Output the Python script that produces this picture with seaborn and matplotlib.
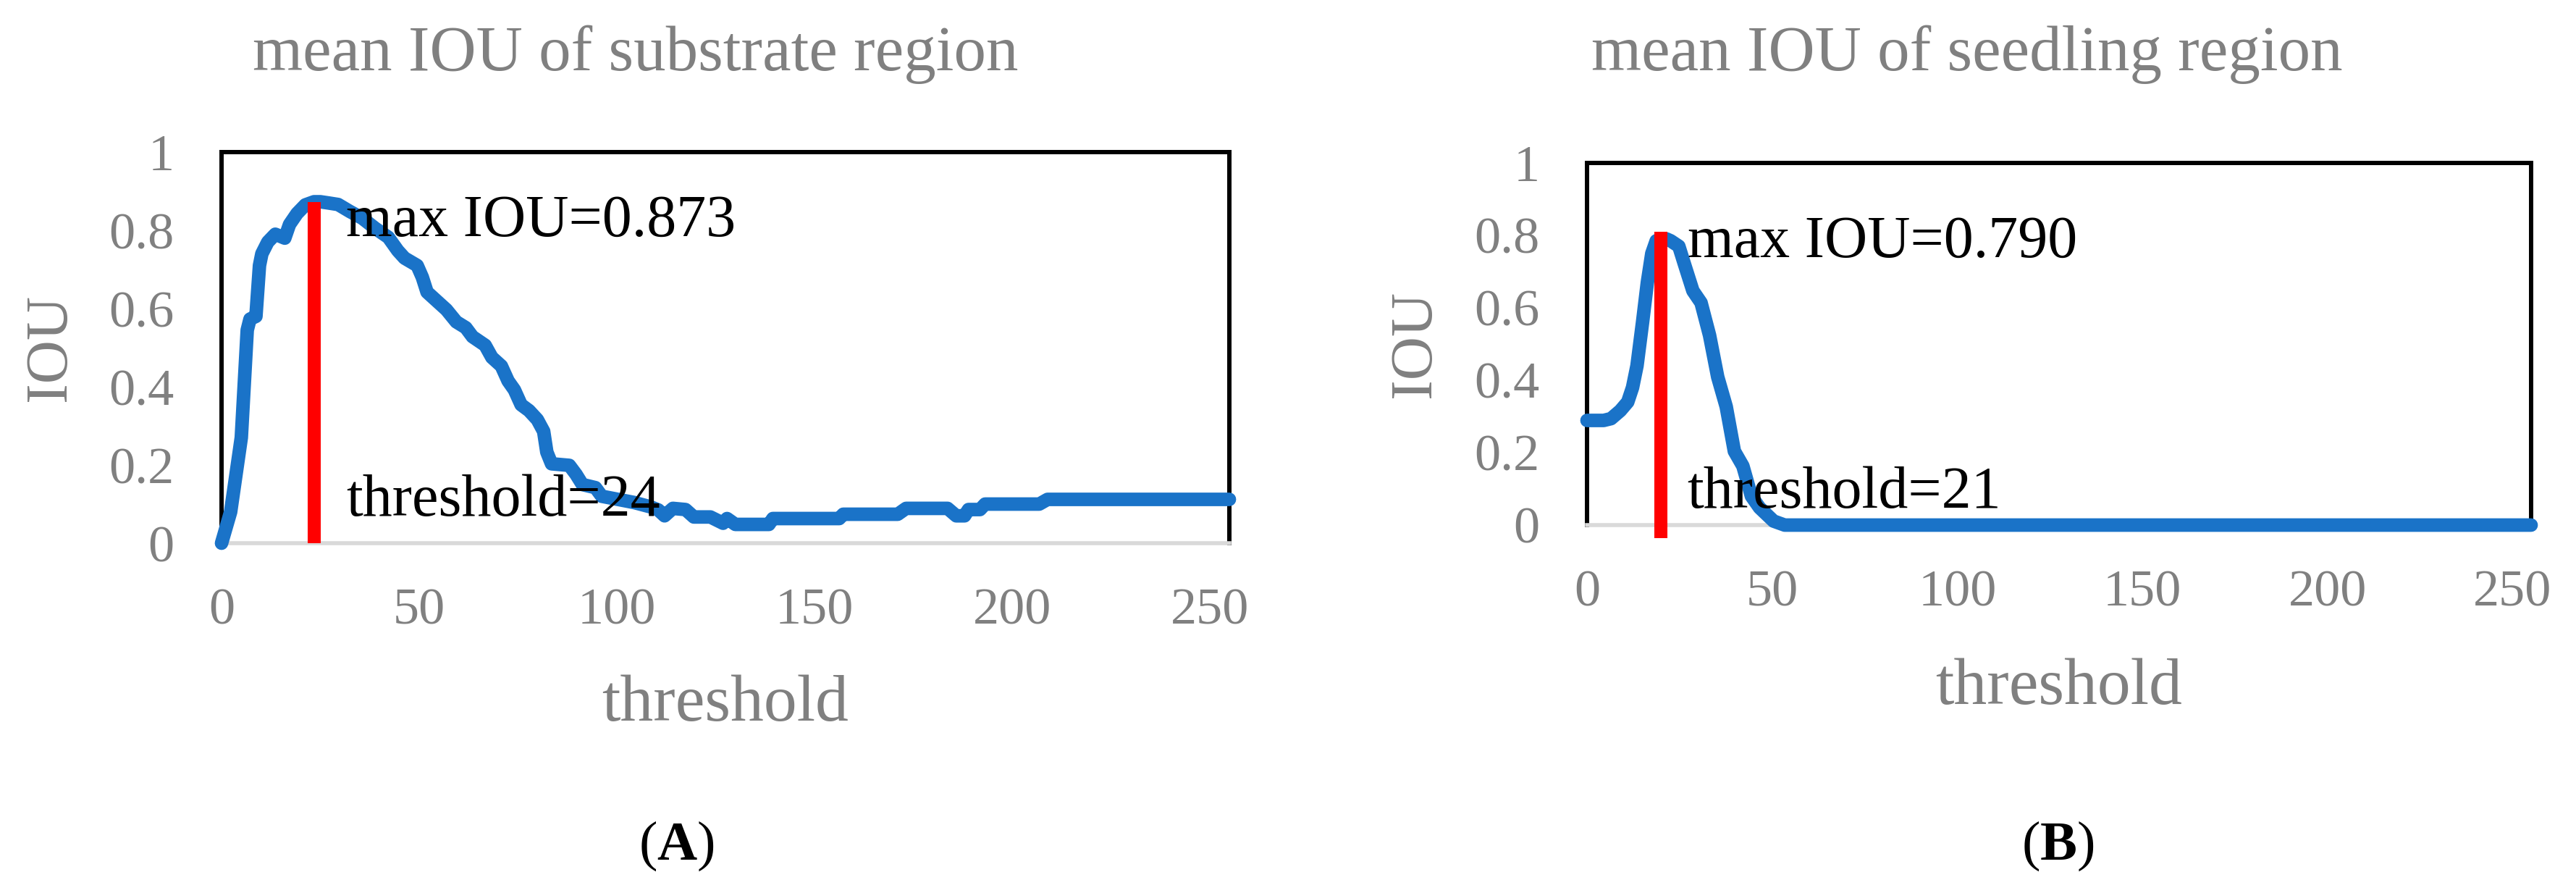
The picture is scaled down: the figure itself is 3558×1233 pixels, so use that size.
# %%
import matplotlib.pyplot as plt
import seaborn as sns


# %%
# values
A_THRESHOLD = [0, 2.3, 5, 6.5, 7.2, 8.7, 9.6, 10.2, 11.7, 13.6, 16, 17.2, 19.1, 21.2,
               23.4, 25, 27, 29.5, 32.5, 35.6, 38.9, 42.2, 44.6, 46.3, 49.5, 50.8,
               52, 54.5, 56.9, 59.4, 61.8, 63.5, 66.7, 68.4, 70.8, 72.5, 74.1, 75.8,
               77.8, 79.9, 81.5, 82.3, 83.5, 88, 89.7, 91.3, 94.6, 96.2, 100.3,
               104.4, 108.5, 110.5, 112.1, 114.2, 117.4, 119.5, 123.7, 126.9, 127.9,
               130, 138.5, 139.5, 156.3, 157.3, 171.1, 173.2, 183.7, 185.9, 188,
               189, 191.9, 193.2, 206.9, 209, 255]
A_IOU = [0, 0.08, 0.27, 0.545, 0.573, 0.58, 0.71, 0.74, 0.77, 0.79, 0.78, 0.815,
         0.843, 0.865, 0.873, 0.873, 0.87, 0.866, 0.848, 0.831, 0.805, 0.782, 0.748,
         0.729, 0.71, 0.68, 0.642, 0.619, 0.597, 0.566, 0.551, 0.528, 0.506, 0.475,
         0.453, 0.415, 0.392, 0.354, 0.339, 0.316, 0.286, 0.233, 0.203, 0.199,
         0.176, 0.15, 0.142, 0.12, 0.112, 0.104, 0.093, 0.085, 0.07, 0.089, 0.086,
         0.067, 0.067, 0.051, 0.063, 0.048, 0.048, 0.063, 0.063, 0.074, 0.074,
         0.089, 0.089, 0.07, 0.07, 0.086, 0.086, 0.1, 0.1, 0.112, 0.112]

B_THRESHOLD = [0, 4.5, 6.5, 9, 11, 12.3, 13.5, 15, 16.3, 17.5, 18.7, 20, 21.5, 22.6,
               24.8, 26.3, 28.6, 30.8, 33.1, 35.3, 37.6, 39.8, 42.1, 44.4, 46.6,
               50.4, 53.4, 255]
B_IOU = [0.289, 0.289, 0.294, 0.316, 0.34, 0.38, 0.44, 0.56, 0.67, 0.75, 0.785,
         0.79, 0.79, 0.785, 0.77, 0.721, 0.647, 0.614, 0.524, 0.409, 0.327, 0.204,
         0.163, 0.08, 0.048, 0.011, 0, 0]

# red marker lines at the best threshold
A_MARK_X = [23.5, 23.5]
A_MARK_Y = [0, 0.873]
B_MARK_X = [20, 20]
B_MARK_Y = [-0.035, 0.81]

TITLES = ["mean IOU of substrate region", "mean IOU of seedling region"]
MAX_LABELS = ["max IOU=0.873", "max IOU=0.790"]
THRESH_LABELS = ["threshold=24", "threshold=21"]
PANEL_LETTERS = ["A", "B"]

X_TICKS = [0, 50, 100, 150, 200, 250]
Y_TICKS = [0, 0.2, 0.4, 0.6, 0.8, 1]
Y_TICKLABELS = ["0", "0.2", "0.4", "0.6", "0.8", "1"]


# %%
BLUE = "#1a73c8"
RED = "#ff0000"
GRAY = "#808080"
W, H = 3558, 1233


def style_axes(ax, ylabel_x, xlabel_y):
    ax.set_xlim(0, 255)
    ax.set_ylim(0, 1)
    ax.set_xticks(X_TICKS)
    ax.set_yticks(Y_TICKS)
    ax.set_yticklabels(Y_TICKLABELS)
    ax.tick_params(axis='both', length=0, labelsize=52, labelcolor=GRAY)
    ax.tick_params(axis='x', pad=44)
    ax.tick_params(axis='y', pad=47)
    for side in ('top', 'left', 'right'):
        ax.spines[side].set_color('black')
        ax.spines[side].set_linewidth(4.3)
    ax.spines['bottom'].set_color('#d9d9d9')
    ax.spines['bottom'].set_linewidth(4)

    ax.set_xlabel("threshold", fontsize=66, color=GRAY)
    ax.xaxis.set_label_coords(0.5, xlabel_y)
    ax.xaxis.label.set_verticalalignment('baseline')
    ax.set_ylabel("IOU", fontsize=60, color=GRAY)
    ax.yaxis.set_label_coords(ylabel_x, 0.5)
    ax.yaxis.label.set_verticalalignment('center')


def draw_panel(ax, x, y, mark_x, mark_y, max_label, thresh_label, text_x, max_y, thresh_y):
    sns.lineplot(x=x, y=y, ax=ax, color=BLUE, linewidth=13.5, estimator=None,
                 sort=False, solid_capstyle='round', solid_joinstyle='round',
                 zorder=5, clip_on=False)
    ax.plot(mark_x, mark_y, color=RED, linewidth=13, solid_capstyle='butt',
            zorder=6, clip_on=False)
    ax.text(text_x, max_y, max_label, fontsize=59, color='black', va='baseline', zorder=7)
    ax.text(text_x, thresh_y, thresh_label, fontsize=59, color='black', va='baseline', zorder=7)


# %%
def main():
    sns.set_theme(style='white')
    plt.rcParams['font.family'] = ['Liberation Serif', 'DejaVu Serif']
    plt.rcParams['mathtext.fontset'] = 'custom'
    plt.rcParams['mathtext.rm'] = 'Liberation Serif'
    plt.rcParams['mathtext.bf'] = 'Liberation Serif:bold'

    fig = plt.figure(figsize=(W / 100, H / 100), dpi=100)
    ax_a = fig.add_axes([306 / W, 1 - 750 / H, 1392 / W, 540 / H])
    ax_b = fig.add_axes([2192 / W, 1 - 725 / H, 1304 / W, 500 / H])

    draw_panel(ax_a, A_THRESHOLD, A_IOU, A_MARK_X, A_MARK_Y,
               MAX_LABELS[0], THRESH_LABELS[0], 31.5, 0.786, 0.070)
    draw_panel(ax_b, B_THRESHOLD, B_IOU, B_MARK_X, B_MARK_Y,
               MAX_LABELS[1], THRESH_LABELS[1], 27.1, 0.74, 0.048)

    style_axes(ax_a, -236 / 1392, -0.454)
    style_axes(ax_b, -237 / 1304, -0.494)

    for cx, title in zip([878, 2717], TITLES):
        fig.text(cx / W, 1 - 97 / H, title, fontsize=64, color=GRAY,
                 ha='center', va='baseline')
    for cx, letter in zip([934, 2842], PANEL_LETTERS):
        fig.text(cx / W, 1 - 1187 / H, "($\\mathbf{" + letter + "}$)", fontsize=55,
                 color='black', ha='center', va='baseline')

    fig.savefig('out.png', dpi=100)
    plt.close(fig)


# %%
if __name__ == "__main__":
    main()
